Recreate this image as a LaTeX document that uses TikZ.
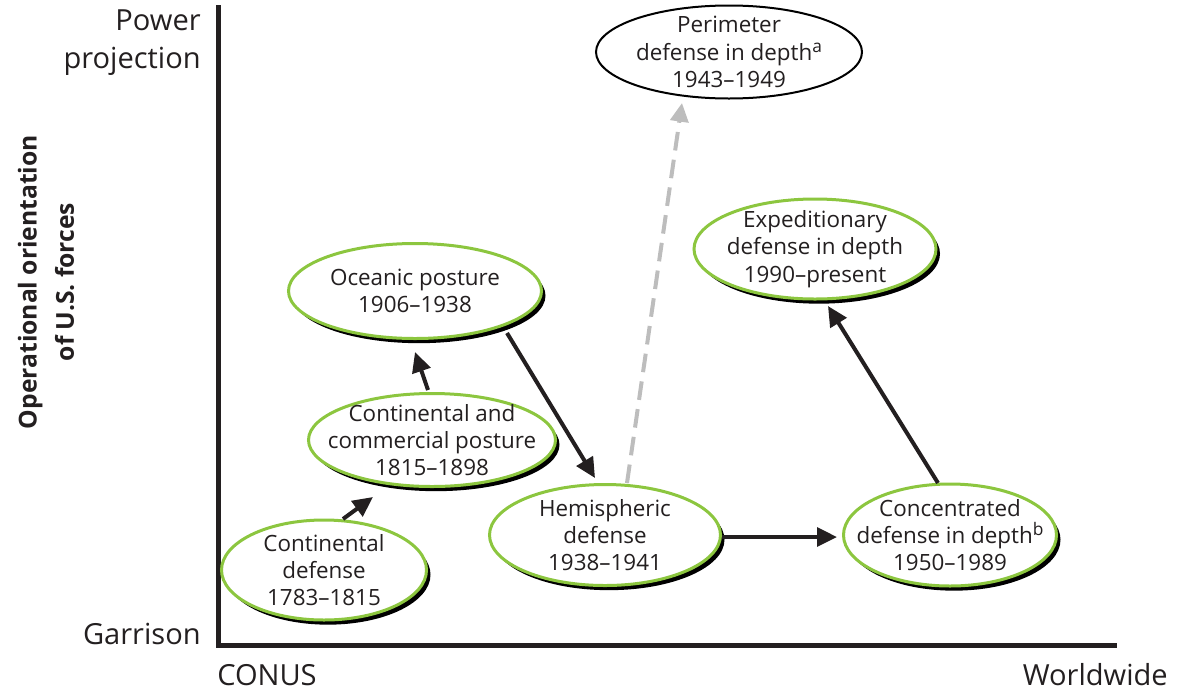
\documentclass[tikz,border=0pt]{standalone}
\usepackage{fontspec}
\setmainfont{Open Sans}
\usetikzlibrary{shapes.geometric,shadows,arrows.meta,calc}
\definecolor{egreen}{HTML}{8CC63F}
\definecolor{ink}{HTML}{231F20}
\definecolor{dgray}{HTML}{BDBDBD}
\newcommand{\supmark}[1]{\raisebox{0.65ex}{\fontsize{13}{13}\selectfont #1}}
\begin{document}
\begin{tikzpicture}[x=0.75pt,y=-0.75pt,
  era/.style={ellipse, draw=egreen, line width=2.25pt, fill=white, inner sep=0pt,
     drop shadow={shadow xshift=3pt, shadow yshift=-3.5pt, opacity=1, fill=black}},
  goal/.style={ellipse, draw=black, line width=1.5pt, fill=white, inner sep=0pt},
  lbl/.style={align=center, text=ink, inner sep=0pt, font=\fontsize{16.8}{20.5}\selectfont},
  axl/.style={text=ink, inner sep=0pt, font=\fontsize{21.8}{28.5}\selectfont},
  axis/.style={line width=3.75pt, draw=ink, line join=miter},
  arr/.style={line width=3pt, draw=ink, -{Triangle[length=15pt,width=14pt]}},
  garr/.style={line width=3pt, draw=dgray, dash pattern=on 14pt off 7pt, -{Triangle[length=14pt,width=13.5pt]}}
]
\useasboundingbox (0,0) rectangle (1181,693);
% axes
\coordinate (ytop) at (218,5);
\coordinate (orig) at (218,645);
\coordinate (xend) at (1117,645);
\draw[axis] (ytop) -- (orig) -- (xend);
\node[axl, anchor=east, align=right] (pp) at (201,43) {Power\\projection};
\node[axl, anchor=east] (gar) at (201,634) {Garrison};
\node[axl, anchor=west] (conus) at (217,675) {CONUS};
\node[axl, anchor=east] (ww) at (1168,675) {Worldwide};
\node[text=ink, rotate=90, align=center, font=\fontsize{18.5}{28}\selectfont\bfseries] (ttl) at (46,282) {Operational orientation\\of U.S. forces};
% ellipses
\node[era, minimum width=153.75pt, minimum height=75pt] (cd) at (324,570) {};
\node[era, minimum width=185.25pt, minimum height=69.75pt] (cc) at (432,440) {};
\node[era, minimum width=189.75pt, minimum height=71.25pt] (oc) at (415,291) {};
\node[era, minimum width=173.25pt, minimum height=75.75pt] (hd) at (605,535) {};
\node[goal, minimum width=199.5pt, minimum height=69.75pt] (per) at (729,52) {};
\node[era, minimum width=181.5pt, minimum height=75pt] (exp) at (815,249) {};
\node[era, minimum width=159.75pt, minimum height=76.5pt] (conc) at (950,535) {};
% texts
\node[lbl] (cdt) at (cd.center) {Continental\\defense\\1783–1815};
\node[lbl] (cct) at (cc.center) {Continental and\\commercial posture\\1815–1898};
\node[lbl] (oct) at (oc.center) {Oceanic posture\\1906–1938};
\node[lbl] (hdt) at (hd.center) {Hemispheric\\defense\\1938–1941};
\node[lbl] (pert) at (per.center) {Perimeter\\defense in depth\supmark{a}\\1943–1949};
\node[lbl] (expt) at (exp.center) {Expeditionary\\defense in depth\\1990–present};
\node[lbl] (conct) at (conc.center) {Concentrated\\defense in depth\supmark{b}\\1950–1989};
% connectors
\draw[arr] ($(cd.center)+(19,-51)$) -- ($(cc.center)+(-59,57)$);
\draw[arr] ($(cc.center)+(-4,-50)$) -- ($(oc.center)+(0,61)$);
\draw[arr] ($(oc.center)+(92,42)$) -- ($(hd.center)+(-10,-57)$);
\draw[garr] ($(hd.center)+(22,-52)$) -- ($(per.center)+(-47,51)$);
\draw[arr] ($(hd.center)+(117,2)$) -- ($(conc.center)+(-113,2)$);
\draw[arr] ($(conc.center)+(-12,-52)$) -- ($(exp.center)+(13,57)$);
\end{tikzpicture}
\end{document}
